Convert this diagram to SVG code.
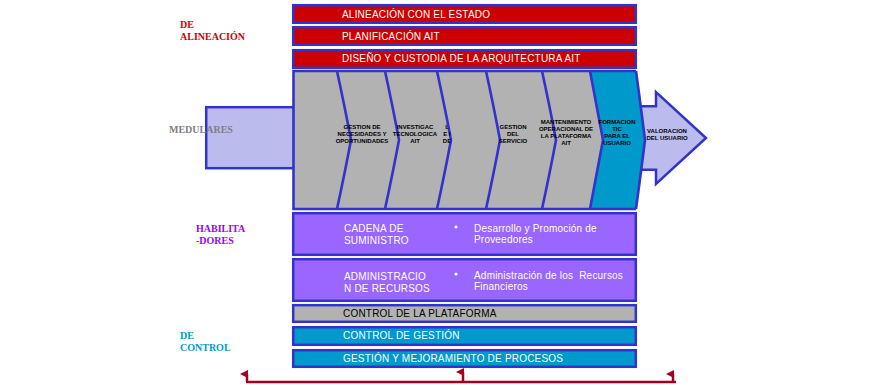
<svg xmlns="http://www.w3.org/2000/svg" width="877" height="385" viewBox="0 0 877 385">
<defs>
<style>
.bar{stroke:#3333CC;stroke-width:2.5}
.red{fill:#CC0000}
.pur{fill:#9966FF}
.gry{fill:#B2B2B2}
.cya{fill:#0099CC}
.lav{fill:#BBBBEE;stroke:#3333CC;stroke-width:2.5}
.bt{font-family:"Liberation Sans",Arial,sans-serif;font-size:10px;fill:#FFFFFF;letter-spacing:0.2px}
.bk{fill:#000000}
.lbl{font-family:"Liberation Serif","Times New Roman",serif;font-size:10px;font-weight:bold}
.ch{font-family:"Liberation Sans",Arial,sans-serif;font-size:6px;font-weight:bold;fill:#000000;text-anchor:middle}
.bd{fill:none;stroke:#3333CC;stroke-width:2.6}
.con{fill:none;stroke:#A00020;stroke-width:2.5}
</style>
<marker id="ah" markerWidth="8" markerHeight="8" refX="4" refY="7" orient="auto-start-reverse" markerUnits="userSpaceOnUse" viewBox="0 0 8 8">
<path d="M0,8 L4,0 L8,8 Z" fill="#A00020"/>
</marker>
</defs>

<g id="bar-alineacion">
<rect class="bar red" x="293.2" y="5.2" width="342.6" height="17.6"/>
<text class="bt" x="342" y="18">ALINEACIÓN CON EL ESTADO</text>
</g>
<g id="bar-planificacion">
<rect class="bar red" x="293.2" y="27.2" width="342.6" height="17.6"/>
<text class="bt" x="342" y="40">PLANIFICACIÓN AIT</text>
</g>
<g id="bar-diseno">
<rect class="bar red" x="293.2" y="50.2" width="342.6" height="17.6"/>
<text class="bt" x="342" y="62">DISEÑO Y CUSTODIA DE LA ARQUITECTURA AIT</text>
</g>

<g id="arrow-tail">
<rect class="lav" x="206.2" y="107.2" width="88" height="61"/>
</g>
<g id="arrow-head">
<path class="lav" d="M632,106.2 H656 V92 L706,138 L656,184 V169.8 H632 Z"/>
<text class="ch" x="667" y="133">VALORACION</text>
<text class="ch" x="667" y="140">DEL USUARIO</text>
</g>

<g id="labels">
<text class="lbl" x="180" y="28" fill="#CC0000">DE</text>
<text class="lbl" x="180" y="40" fill="#CC0000">ALINEACIÓN</text>
<text class="lbl" x="169" y="133" fill="#808080">MEDULARES</text>
<text class="lbl" x="196" y="232" fill="#9900FF">HABILITA</text>
<text class="lbl" x="196" y="244" fill="#9900FF">-DORES</text>
<text class="lbl" x="180" y="339" fill="#0099CC">DE</text>
<text class="lbl" x="180" y="351" fill="#0099CC">CONTROL</text>
</g>

<g id="chevrons">
<path class="gry" d="M293,71 H636 Q641,108 645,140 Q641,172 636,209 H293 Z"/>
<path class="cya" d="M590,71 Q597,108 603,140 Q597,172 590,209 H636 Q641,172 645,140 Q641,108 636,71 Z"/>
<path class="bd" d="M636,71 H293.5 V209 H636"/>
<path class="bd" d="M337,71 Q345,108 351,140 Q345,172 337,209"/>
<path class="bd" d="M385,71 Q393,108 399,140 Q393,172 385,209"/>
<path class="bd" d="M437,71 Q445,108 451,140 Q445,172 437,209"/>
<path class="bd" d="M486,71 Q494,108 500,140 Q494,172 486,209"/>
<path class="bd" d="M542,71 Q550,108 556,140 Q550,172 542,209"/>
<path class="bd" d="M590,71 Q597,108 603,140 Q597,172 590,209"/>
<path class="bd" d="M636,71 Q641,108 645,140 Q641,172 636,209"/>
</g>

<g id="chev-1">
<text class="ch" x="362" y="129">GESTION DE</text>
<text class="ch" x="362" y="136">NECESIDADES Y</text>
<text class="ch" x="362" y="143">OPORTUNIDADES</text>
</g>
<g id="chev-2">
<text class="ch" x="415" y="129">INVESTIGAC</text>
<text class="ch" x="415" y="136">TECNOLOGICA</text>
<text class="ch" x="415" y="143">AIT</text>
</g>
<g id="chev-3">
<text class="ch" x="447" y="129">L</text>
<text class="ch" x="447" y="136">E I</text>
<text class="ch" x="447" y="143">DE</text>
</g>
<g id="chev-4">
<text class="ch" x="513" y="129">GESTION</text>
<text class="ch" x="513" y="136">DEL</text>
<text class="ch" x="513" y="143">SERVICIO</text>
</g>
<g id="chev-5">
<text class="ch" x="566" y="124">MANTENIMIENTO</text>
<text class="ch" x="566" y="131">OPERACIONAL DE</text>
<text class="ch" x="566" y="138">LA PLATAFORMA</text>
<text class="ch" x="566" y="145">AIT</text>
</g>
<g id="chev-6">
<text class="ch" x="617" y="124">FORMACION</text>
<text class="ch" x="617" y="131">TIC</text>
<text class="ch" x="617" y="138">PARA EL</text>
<text class="ch" x="617" y="145">USUARIO</text>
</g>

<g id="bar-cadena">
<rect class="bar pur" x="293.2" y="213.2" width="342.6" height="41.6"/>
<text class="bt" x="344" y="232">CADENA DE</text>
<text class="bt" x="344" y="244">SUMINISTRO</text>
<circle cx="456" cy="227" r="1.6" fill="#FFFFFF"/>
<text class="bt" x="474" y="232">Desarrollo y Promoción de</text>
<text class="bt" x="474" y="243">Proveedores</text>
</g>
<g id="bar-administracion">
<rect class="bar pur" x="293.2" y="259.2" width="342.6" height="41.6"/>
<text class="bt" x="344" y="280">ADMINISTRACIO</text>
<text class="bt" x="344" y="292">N DE RECURSOS</text>
<circle cx="456" cy="274" r="1.6" fill="#FFFFFF"/>
<text class="bt" x="474" y="279" style="white-space:pre">Administración de los  Recursos</text>
<text class="bt" x="474" y="290">Financieros</text>
</g>
<g id="bar-plataforma">
<rect class="bar gry" x="293.2" y="305.2" width="342.6" height="16.6"/>
<text class="bt bk" x="343" y="317">CONTROL DE LA PLATAFORMA</text>
</g>
<g id="bar-gestion">
<rect class="bar cya" x="293.2" y="327.2" width="342.6" height="17.6"/>
<text class="bt" x="343" y="339">CONTROL DE GESTIÓN</text>
</g>
<g id="bar-procesos">
<rect class="bar cya" x="293.2" y="350.2" width="342.6" height="16.6"/>
<text class="bt" x="343" y="362">GESTIÓN Y MEJORAMIENTO DE PROCESOS</text>
</g>

<g id="connectors">
<path class="con" d="M246,382 H676"/>
<path class="con" d="M247,382 V374" marker-end="url(#ah)"/>
<path class="con" d="M463,382 V372" marker-end="url(#ah)"/>
<path class="con" d="M673,382 V374" marker-end="url(#ah)"/>
</g>
</svg>
